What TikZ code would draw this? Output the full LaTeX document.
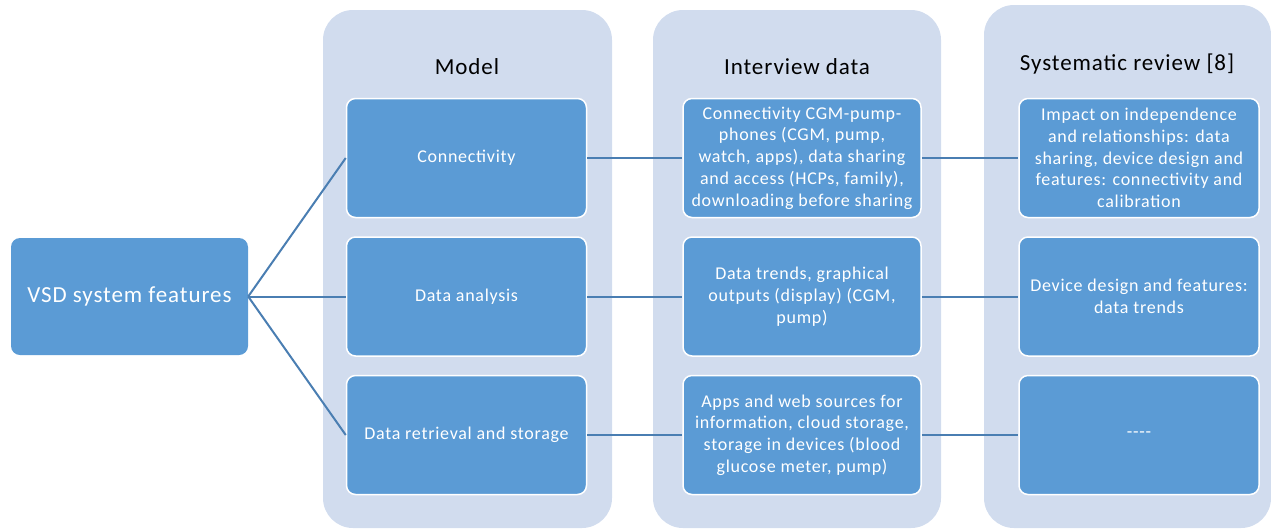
\documentclass[tikz,border=0pt]{standalone}
\usepackage{fontspec}
\setmainfont[LetterSpace=4]{Carlito}
\definecolor{colbg}{HTML}{D1DCEE}
\definecolor{boxfill}{HTML}{5B9BD5}
\definecolor{linec}{HTML}{4A7EB2}
\tikzset{
  colpanel/.style={fill=colbg, draw=none, rounded corners=30pt},
  itembox/.style={fill=boxfill, draw=white, line width=1.5pt, rounded corners=9pt,
    minimum width=240pt, minimum height=119pt, align=center, text=white,
    font=\fontsize{18}{21.7}\selectfont, inner sep=2pt},
  rootbox/.style={fill=boxfill, draw=none, rounded corners=9pt,
    minimum width=237pt, minimum height=117pt, align=center, text=white,
    font=\fontsize{23}{27}\selectfont},
  coltitle/.style={font=\fontsize{23}{27}\selectfont, text=black},
  conn/.style={draw=linec, line width=2pt}
}
\begin{document}
\begin{tikzpicture}[x=1pt,y=-1pt]
\useasboundingbox (0,0) rectangle (1271,531);
% column panels
\path[colpanel] (323,10) rectangle (612,528);
\path[colpanel] (653,10) rectangle (941,528);
\path[colpanel] (984,5) rectangle (1271,528);
% titles
\node[coltitle] (t1) at (467,67) {Model};
\node[coltitle] (t2) at (797,67) {Interview data};
\node[coltitle] (t3) at (1127,64) {Systematic review [8]};
% root
\node[rootbox] (root) at (129.5,296.5) {VSD system features};
% model column
\node[itembox] (m1) at (466.5,158) {Connectivity};
\node[itembox] (m2) at (466.5,296.5) {Data analysis};
\node[itembox] (m3) at (466.5,435) {Data retrieval and storage};
% interview column
\node[itembox, minimum width=238pt] (i1) at (802,158) {Connectivity CGM-pump-\\phones (CGM, pump,\\watch, apps), data sharing\\and access (HCPs, family),\\downloading before sharing};
\node[itembox, minimum width=238pt] (i2) at (802,296.5) {Data trends, graphical\\outputs (display) (CGM,\\pump)};
\node[itembox, minimum width=238pt] (i3) at (802,435) {Apps and web sources for\\information, cloud storage,\\storage in devices (blood\\glucose meter, pump)};
% review column
\node[itembox] (r1) at (1139,158) {Impact on independence\\and relationships: data\\sharing, device design and\\features: connectivity and\\calibration};
\node[itembox] (r2) at (1139,296.5) {Device design and features:\\data trends};
\node[itembox] (r3) at (1139,435) {{-}{-}{-}{-}};
% connectors
\draw[conn] (root.east) -- (m1.west);
\draw[conn] (root.east) -- (m2.west);
\draw[conn] (root.east) -- (m3.west);
\draw[conn] (m1.east) -- (i1.west);
\draw[conn] (m2.east) -- (i2.west);
\draw[conn] (m3.east) -- (i3.west);
\draw[conn] (i1.east) -- (r1.west);
\draw[conn] (i2.east) -- (r2.west);
\draw[conn] (i3.east) -- (r3.west);
\end{tikzpicture}
\end{document}
